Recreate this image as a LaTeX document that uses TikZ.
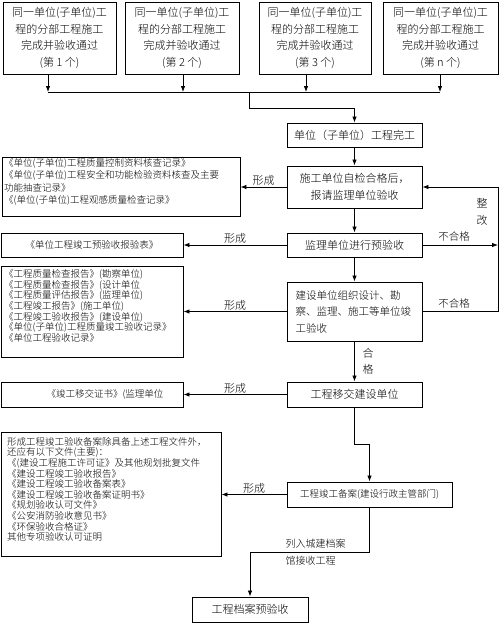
\documentclass[tikz,border=0pt]{standalone}
\usepackage{fontspec}
\setmainfont{Noto Sans CJK SC Light}
\usetikzlibrary{arrows.meta}
\begin{document}
\begin{tikzpicture}[x=1pt,y=-1pt,
  box/.style={draw,line width=0.9pt,inner sep=0pt,align=center},
  arr/.style={line width=0.8pt,-{Latex[length=6pt,width=4.5pt]}},
  ln/.style={line width=0.8pt},
  big/.style={font=\fontsize{11}{16.7}\selectfont},
  mid/.style={font=\fontsize{10.5}{16.5}\selectfont},
  small/.style={font=\fontsize{9.5}{10.7}\selectfont},
  lbl/.style={font=\fontsize{11}{16}\selectfont,inner sep=1pt},
  ltext/.style={inner sep=0pt,anchor=north west,align=left},
]
\useasboundingbox (0,0) rectangle (500,624);

% top boxes
\node[box,big,minimum width=113pt,minimum height=72pt] (t1) at (59.5,38) {同一单位(子单位)工\\程的分部工程施工\\完成并验收通过\\(第 1 个)};
\node[box,big,minimum width=114pt,minimum height=72pt] (t2) at (182,38) {同一单位(子单位)工\\程的分部工程施工\\完成并验收通过\\(第 2 个)};
\node[box,big,minimum width=112pt,minimum height=72pt] (t3) at (315,38) {同一单位(子单位)工\\程的分部工程施工\\完成并验收通过\\(第 3 个)};
\node[box,big,minimum width=115pt,minimum height=72pt] (t4) at (440.5,38) {同一单位(子单位)工\\程的分部工程施工\\完成并验收通过\\(第 n 个)};

\coordinate (j1) at (48,92);
\coordinate (j2) at (183,92);
\coordinate (j3) at (306,92);
\coordinate (j4) at (440,92);
\coordinate (jm) at (249,92);
\coordinate (k1) at (249,108);
\coordinate (k2) at (354.5,108);

% main column
\node[box,big,minimum width=135pt,minimum height=24pt] (m1) at (354.5,135) {单位（子单位）工程完工};
\node[box,big,minimum width=135pt,minimum height=42pt,font=\fontsize{11}{17}\selectfont] (m2) at (354.5,187) {施工单位自检合格后，\\报请监理单位验收};
\node[box,big,minimum width=135pt,minimum height=24pt] (m3) at (354.5,245) {监理单位进行预验收};
\node[box,mid,minimum width=135pt,minimum height=59pt,align=left,text width=118pt] (m4) at (354.5,311.5) {建设单位组织设计、勘\\察、监理、施工等单位竣\\工验收};
\node[box,big,minimum width=135pt,minimum height=25pt] (m5) at (354.5,394.5) {工程移交建设单位};
\node[box,small,minimum width=165pt,minimum height=25pt] (m6) at (369.5,494.5) {工程竣工备案(建设行政主管部门)};
\node[box,big,minimum width=116pt,minimum height=25pt] (m7) at (250,609.5) {工程档案预验收};

% left boxes
\node[box,minimum width=238pt,minimum height=59pt] (L1) at (121,186.5) {};
\node[ltext,font=\fontsize{9.5}{12.3}\selectfont] (L1t) at (4,158.2) {《单位(子单位)工程质量控制资料核查记录》\\《单位(子单位)工程安全和功能检验资料核查及主要\\功能抽查记录》\\《(单位(子单位)工程观感质量检查记录》};
\node[box,small,minimum width=182pt,minimum height=24pt] (L2) at (92,245) {《单位工程竣工预验收报验表》};
\node[box,minimum width=182pt,minimum height=91pt] (L3) at (92,311.5) {};
\node[ltext,small] (L3t) at (4,269.2) {《工程质量检查报告》(勘察单位)\\《工程质量检查报告》(设计单位\\《工程质量评估报告》(监理单位)\\《工程竣工报告》(施工单位)\\《工程竣工验收报告》(建设单位)\\《单位(子单位)工程质量竣工验收记录》\\《单位工程验收记录》};
\node[box,minimum width=182pt,minimum height=25pt] (L4) at (92,394.5) {};
\node[small,inner sep=0pt] (L4t) at (105,394.5) {《竣工移交证书》(监理单位};
\node[box,minimum width=220pt,minimum height=124pt] (L5) at (111,494) {};
\node[ltext,font=\fontsize{9.5}{10.6}\selectfont] (L5t) at (7,437.2) {形成工程竣工验收备案除具备上述工程文件外，\\还应有以下文件(主要)：\\《(建设工程施工许可证》及其他规划批复文件\\《建设工程竣工验收报告》\\《建设工程竣工验收备案表》\\《建设工程竣工验收备案证明书》\\《规划验收认可文件》\\《公安消防验收意见书》\\《环保验收合格证》\\其他专项验收认可证明};

% top connectors
\draw[arr] (t1.south -| j1) -- (j1);
\draw[arr] (t2.south -| j2) -- (j2);
\draw[arr] (t3.south -| j3) -- (j3);
\draw[arr] (t4.south -| j4) -- (j4);
\draw[ln] (j1) -- (j4);
\draw[arr] (jm) -- (k1) -- (k2) -- (m1.north);

% main vertical
\draw[arr] (m1) -- (m2);
\draw[arr] (m2) -- (m3);
\draw[arr] (m3) -- (m4);
\draw[arr] (m4) -- (m5);
\node[lbl,align=center] (hg) at (368,361) {合\\格};

\coordinate (p1) at (354.5,444);
\coordinate (p2) at (369.5,444);
\draw[arr] (m5.south) -- (p1) -- (p2) -- (m6.north);
\coordinate (p3) at (369.5,552);
\coordinate (p4) at (250,552);
\draw[arr] (m6.south) -- (p3) -- (p4) -- (m7.north);
\node[ltext,font=\fontsize{10}{17}\selectfont] (lr) at (285.5,539) {列入城建档案\\馆接收工程};

% left arrows
\draw[arr] (m2.west) -- node[lbl,above]{形成} (m2.west -| L1.east);
\draw[arr] (m3.west) -- node[lbl,above]{形成} (m3.west -| L2.east);
\draw[arr] (m4.west) -- node[lbl,above]{形成} (m4.west -| L3.east);
\draw[arr] (m5.west) -- node[lbl,above]{形成} (m5.west -| L4.east);
\draw[arr] (m6.west) -- node[lbl,above]{形成} (m6.west -| L5.east);

% right loop
\coordinate (r1) at (498,311.5);
\coordinate (r2) at (498,187);
\coordinate (r3) at (498,245);
\draw[arr] (m4.east) -- (r1) -- (r2) -- (m2.east);
\draw[arr] (m3.east) -- (r3);
\node[lbl,font=\fontsize{10.5}{12}\selectfont] (bh1) at (454,237) {不合格};
\node[lbl,font=\fontsize{10.5}{12}\selectfont] (bh2) at (454,304) {不合格};
\node[lbl,align=center,font=\fontsize{11}{17}\selectfont] (zg) at (482,211.5) {整\\改};
\end{tikzpicture}
\end{document}
